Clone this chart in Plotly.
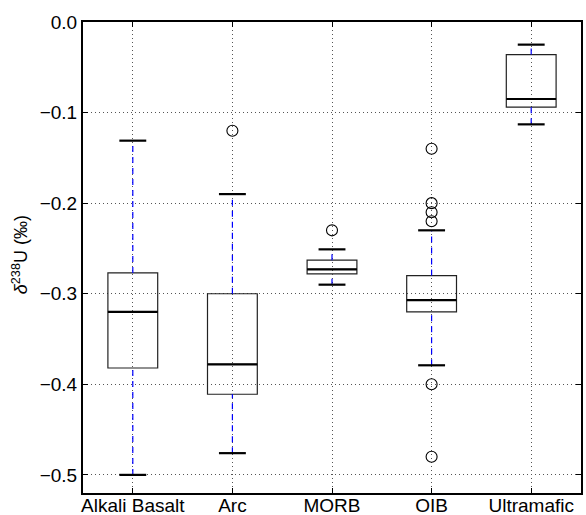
import plotly.graph_objects as go

categories = ["Alkali Basalt", "Arc", "MORB", "OIB", "Ultramafic"]
positions = [1, 2, 3, 4, 5]
q1 = [-0.382, -0.411, -0.278, -0.320, -0.094]
medians = [-0.320, -0.378, -0.273, -0.307, -0.085]
q3 = [-0.277, -0.300, -0.263, -0.280, -0.036]
whisker_low = [-0.500, -0.476, -0.290, -0.379, -0.113]
whisker_high = [-0.131, -0.190, -0.251, -0.230, -0.025]
outliers = [
    [],
    [-0.120],
    [-0.230],
    [-0.140, -0.200, -0.210, -0.220, -0.400, -0.480],
    [],
]
y_tickvals = [0.0, -0.1, -0.2, -0.3, -0.4, -0.5]
y_ticktext = ["0.0", "\u22120.1", "\u22120.2", "\u22120.3", "\u22120.4", "\u22120.5"]
y_title = "<i>δ</i><sup>238</sup>U (‰)"

BOX_W = 0.5
CAP_W = 0.27
FONT = "Liberation Sans, Arial, sans-serif"

fig = go.Figure()

# whiskers (blue dashed)
wx, wy = [], []
for p, lo, a, b, hi in zip(positions, whisker_low, q1, q3, whisker_high):
    wx += [p, p, None, p, p, None]
    wy += [lo, a, None, b, hi, None]
fig.add_trace(go.Scatter(x=wx, y=wy, mode="lines",
                         line=dict(color="#0000ff", width=1.2, dash="6px,5px"),
                         hoverinfo="skip", showlegend=False))

# boxes
for p, a, m, b in zip(positions, q1, medians, q3):
    fig.add_trace(go.Box(x=[p], q1=[a], median=[m], q3=[b],
                         lowerfence=[a], upperfence=[b],
                         width=BOX_W, whiskerwidth=0,
                         fillcolor="rgba(0,0,0,0)",
                         line=dict(color="#222222", width=1.2),
                         boxpoints=False, showlegend=False))

# medians (thicker)
mx, my = [], []
for p, m in zip(positions, medians):
    mx += [p - BOX_W / 2, p + BOX_W / 2, None]
    my += [m, m, None]
fig.add_trace(go.Scatter(x=mx, y=my, mode="lines",
                         line=dict(color="black", width=2.2),
                         hoverinfo="skip", showlegend=False))

# caps
cx, cy = [], []
for p, lo, hi in zip(positions, whisker_low, whisker_high):
    cx += [p - CAP_W / 2, p + CAP_W / 2, None, p - CAP_W / 2, p + CAP_W / 2, None]
    cy += [lo, lo, None, hi, hi, None]
fig.add_trace(go.Scatter(x=cx, y=cy, mode="lines",
                         line=dict(color="black", width=2.2),
                         hoverinfo="skip", showlegend=False))

# outliers
ox, oy = [], []
for p, outs in zip(positions, outliers):
    for v in outs:
        ox.append(p)
        oy.append(v)
fig.add_trace(go.Scatter(x=ox, y=oy, mode="markers",
                         marker=dict(symbol="circle-open", size=11,
                                     color="black", line=dict(width=1.1)),
                         hoverinfo="skip", showlegend=False))

axis_common = dict(
    showline=True, linecolor="black", linewidth=2, mirror="ticks",
    ticks="inside", ticklen=5, tickwidth=1, tickcolor="black",
    showgrid=True, gridcolor="#555555", gridwidth=1, griddash="1px,3px",
    zeroline=False, automargin=False,
    tickfont=dict(family=FONT, size=19, color="black"),
)

fig.update_layout(
    width=586, height=515,
    margin=dict(l=83, r=5, t=22, b=22),
    paper_bgcolor="white", plot_bgcolor="white",
    font=dict(family=FONT, color="black"),
    xaxis=dict(range=[0.5, 5.5], tickmode="array", tickvals=positions,
               ticktext=categories, ticklabelstandoff=-6, **axis_common),
    yaxis=dict(range=[-0.52, 0.0], tickmode="array",
               tickvals=y_tickvals, ticktext=y_ticktext,
               **axis_common),
    annotations=[dict(text=y_title, xref="paper", yref="paper",
                      x=-0.1265, y=0.505, xanchor="center", yanchor="middle",
                      textangle=-90, showarrow=False,
                      font=dict(family=FONT, size=18, color="black"))],
)

fig.write_html("out.html", config={"displayModeBar": False},
               post_script="document.body.style.margin='0';document.body.style.overflow='hidden';")
